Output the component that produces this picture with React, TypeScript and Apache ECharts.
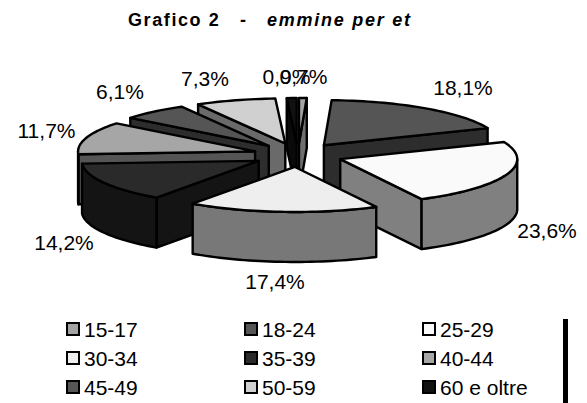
import React, { useEffect, useRef } from "react";
import * as echarts from "echarts";

const categories = ["15-17", "18-24", "25-29", "30-34", "35-39", "40-44", "45-49", "50-59", "60 e oltre"];
const values = [0.7, 18.1, 23.6, 17.4, 14.2, 11.7, 6.1, 7.3, 0.9];
const topColors = ["#a3a3a3", "#555555", "#fafafa", "#eeeeee", "#2a2a2a", "#a6a6a6", "#555555", "#d0d0d0", "#111111"];
const wallColors = ["#6e6e6e", "#2d2d2d", "#808080", "#787878", "#141414", "#555555", "#2d2d2d", "#6a6a6a", "#0a0a0a"];
const drawOrder = [8, 0, 7, 1, 6, 5, 2, 4, 3];
const legendColumns = [
  ["15-17", "30-34", "45-49"],
  ["18-24", "35-39", "50-59"],
  ["25-29", "40-44", "60 e oltre"],
];
const titleBold = "Grafico 2";
const titleDash = "-";
const titleItalic = "emmine per et";

const FONT = "Liberation Sans";
const CX = 298, CY = 155, RX = 177, RY = 45, DEPTH = 50, EX = 45, EY = 12;
const labelPos: number[][] = [
  [303.5, 76], [463, 87], [547, 230], [275, 281], [64, 242], [46.5, 130], [120, 91], [205, 78], [286.5, 76],
];
const legendLeft = [61, 239, 417];

const total = values.reduce((a, b) => a + b, 0);
const cumStart = values.map((_, i) => values.slice(0, i).reduce((a, b) => a + b, 0));
const rad = (v: number) => (v / total) * Math.PI * 2;
const fmt = (v: number) => v.toFixed(1).replace(".", ",") + "%";

function sliceRender(i: number) {
  return () => {
    const t1 = rad(cumStart[i]);
    const t2 = rad(cumStart[i] + values[i]);
    const mid = (t1 + t2) / 2;
    const ax = CX + EX * Math.sin(mid);
    const ay = CY - EY * Math.cos(mid);
    const edge = (t: number, d = 0) => [ax + RX * Math.sin(t), ay - RY * Math.cos(t) + d];
    const arc = (a: number, b: number, d = 0) => {
      const n = Math.max(2, Math.ceil((b - a) / 0.03));
      const out: number[][] = [];
      for (let k = 0; k <= n; k++) out.push(edge(a + ((b - a) * k) / n, d));
      return out;
    };
    const stroke = { stroke: "#000", lineWidth: 2.4, lineJoin: "round" };
    const wall = { fill: wallColors[i], ...stroke };
    const cut = (t: number) => ({
      type: "polygon",
      shape: { points: [[ax, ay], edge(t), edge(t, DEPTH), [ax, ay + DEPTH]] },
      style: wall,
    });
    const children: any[] = [];
    if (Math.sin(t1) < 0) children.push(cut(t1));
    if (Math.sin(t2) >= 0) children.push(cut(t2));
    const a = Math.max(t1, Math.PI / 2);
    const b = Math.min(t2, (3 * Math.PI) / 2);
    if (b > a) {
      const upper = arc(a, b);
      const lower = arc(a, b, DEPTH).reverse();
      children.push({ type: "polygon", shape: { points: [...upper, ...lower] }, style: wall });
    }
    children.push({
      type: "polygon",
      shape: { points: [[ax, ay], ...arc(t1, t2)] },
      style: { fill: topColors[i], ...stroke },
    });
    return { type: "group", children };
  };
}

export default function App() {
  const ref = useRef<HTMLDivElement>(null);
  useEffect(() => {
    const chart = echarts.init(ref.current!, null, { renderer: "svg" });
    const boldStyle = { fontFamily: FONT, fontWeight: "bold", fontSize: 18, fontStyle: "normal", color: "#000" };
    chart.setOption({
      animation: false,
      backgroundColor: "#fff",
      title: {
        left: 123,
        top: 6,
        text: `{b|${titleBold}}{d|${titleDash}}{i|${titleItalic}}`,
        textStyle: {
          rich: {
            b: { ...boldStyle, width: 112 },
            d: { ...boldStyle, width: 27 },
            i: { fontFamily: FONT, fontStyle: "italic", fontWeight: "bold", fontSize: 18, color: "#000" },
          },
        },
      },
      legend: legendColumns.map((col, c) => ({
        orient: "vertical",
        left: legendLeft[c],
        top: 313,
        height: 200,
        data: col,
        icon: "rect",
        itemWidth: 12,
        itemHeight: 12,
        itemGap: 7,
        selectedMode: false,
        textStyle: { fontFamily: FONT, fontSize: 21, color: "#000", lineHeight: 22 },
        itemStyle: { borderColor: "#000", borderWidth: 2 },
      })),
      series: drawOrder.map((i) => ({
        type: "custom",
        name: categories[i],
        coordinateSystem: "none",
        silent: true,
        itemStyle: { color: topColors[i] },
        data: [values[i]],
        renderItem: sliceRender(i),
      })),
      graphic: [
        ...values.map((v, i) => ({
          type: "text",
          x: labelPos[i][0],
          y: labelPos[i][1],
          z: 50,
          style: {
            text: fmt(v),
            fontFamily: FONT,
            fontSize: 21,
            fill: "#000",
            align: "center",
            verticalAlign: "middle",
          },
        })),
        { type: "rect", shape: { x: 563, y: 319, width: 5, height: 84 }, style: { fill: "#000" } },
      ],
    });
    ref.current!.querySelectorAll("text").forEach((el) => {
      const t = el.textContent;
      if (t === titleBold) el.style.letterSpacing = "1.6px";
      if (t === titleItalic) el.style.letterSpacing = "1.75px";
    });
    return () => chart.dispose();
  }, []);
  return <div ref={ref} style={{ position: "absolute", left: 0, top: 0, width: 587, height: 403 }} />;
}
